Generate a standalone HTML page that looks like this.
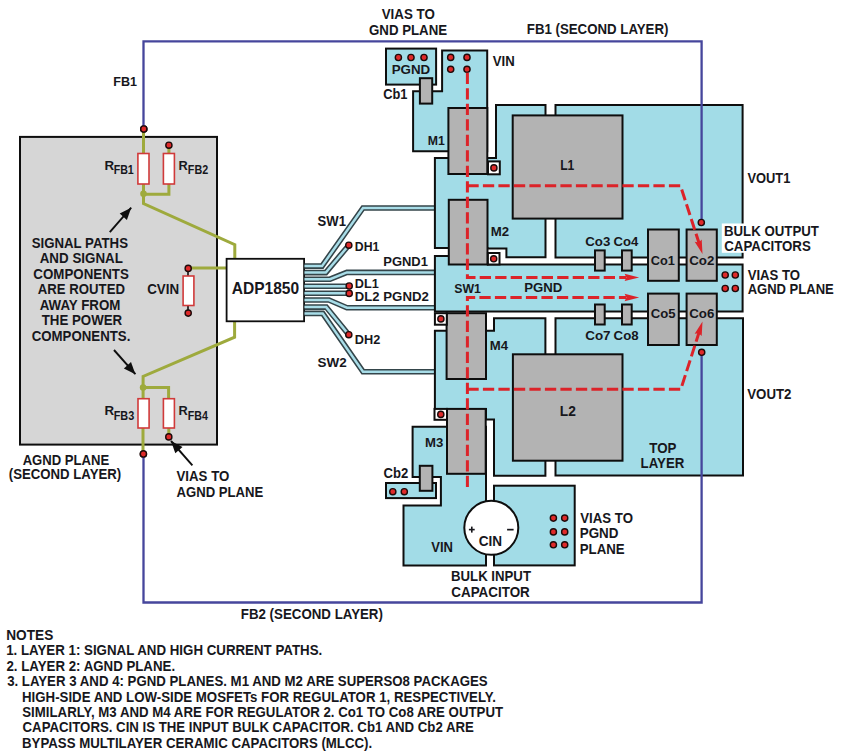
<!DOCTYPE html><html><head><meta charset="utf-8"><style>html,body{margin:0;padding:0;background:#fff;overflow:hidden}svg{display:block}text{font-family:"Liberation Sans",sans-serif;fill:#17171c}</style></head><body>
<svg width="842" height="756" viewBox="0 0 842 756">
<rect width="842" height="756" fill="#fff"/>
<rect x="20.0" y="136.9" width="197.0" height="307.7" fill="#d6d6d6" stroke="#0e0e0e" stroke-width="2.0"/>
<polyline points="143.5,129.0 143.5,154.0" fill="none" stroke="#9eaa3d" stroke-width="3.0" stroke-linejoin="miter" />
<polyline points="143.5,184.0 143.5,203.5 234.8,244.6 234.8,259.0" fill="none" stroke="#9eaa3d" stroke-width="3.0" stroke-linejoin="miter" />
<polyline points="168.9,145.0 168.9,154.0" fill="none" stroke="#9eaa3d" stroke-width="3.0" stroke-linejoin="miter" />
<polyline points="168.9,184.0 168.9,194.3 143.5,194.3" fill="none" stroke="#9eaa3d" stroke-width="3.0" stroke-linejoin="miter" />
<polyline points="188.2,268.0 226.6,268.0" fill="none" stroke="#9eaa3d" stroke-width="3.0" stroke-linejoin="miter" />
<polyline points="188.0,268.0 188.0,276.0" fill="none" stroke="#0e0e0e" stroke-width="1.6" stroke-linejoin="miter" />
<polyline points="188.0,305.0 188.0,313.0" fill="none" stroke="#0e0e0e" stroke-width="1.6" stroke-linejoin="miter" />
<polyline points="234.6,321.0 234.6,337.2 143.1,376.4 143.1,398.0" fill="none" stroke="#9eaa3d" stroke-width="3.0" stroke-linejoin="miter" />
<polyline points="143.1,387.6 168.6,387.6 168.6,398.0" fill="none" stroke="#9eaa3d" stroke-width="3.0" stroke-linejoin="miter" />
<polyline points="143.0,428.0 143.0,454.0" fill="none" stroke="#9eaa3d" stroke-width="3.0" stroke-linejoin="miter" />
<polyline points="168.8,428.0 168.8,437.0" fill="none" stroke="#9eaa3d" stroke-width="3.0" stroke-linejoin="miter" />
<circle cx="143.5" cy="193.8" r="3.3" fill="#9eaa3d"/>
<circle cx="143.1" cy="387.6" r="3.3" fill="#9eaa3d"/>
<rect x="137.9" y="153.5" width="11.1" height="30.5" fill="#fff" stroke="#d03a3a" stroke-width="1.6"/>
<rect x="163.4" y="153.5" width="11.0" height="30.5" fill="#fff" stroke="#d03a3a" stroke-width="1.6"/>
<rect x="183.1" y="276.0" width="10.8" height="29.5" fill="#fff" stroke="#d03a3a" stroke-width="1.6"/>
<rect x="138.0" y="398.7" width="11.1" height="29.3" fill="#fff" stroke="#d03a3a" stroke-width="1.6"/>
<rect x="163.4" y="398.7" width="11.0" height="29.3" fill="#fff" stroke="#d03a3a" stroke-width="1.6"/>
<circle cx="143.8" cy="129.0" r="3.1" fill="#df2a2a" stroke="#1e0a0a" stroke-width="1.4"/>
<circle cx="168.9" cy="145.2" r="3.1" fill="#df2a2a" stroke="#1e0a0a" stroke-width="1.4"/>
<circle cx="188.2" cy="268.4" r="3.1" fill="#df2a2a" stroke="#1e0a0a" stroke-width="1.4"/>
<circle cx="188.2" cy="313.1" r="3.1" fill="#df2a2a" stroke="#1e0a0a" stroke-width="1.4"/>
<circle cx="168.8" cy="436.9" r="3.1" fill="#df2a2a" stroke="#1e0a0a" stroke-width="1.4"/>
<circle cx="143.4" cy="454.0" r="3.1" fill="#df2a2a" stroke="#1e0a0a" stroke-width="1.4"/>
<rect x="226.6" y="258.8" width="77.5" height="62.5" fill="#fff" stroke="#0e0e0e" stroke-width="1.8"/>
<polyline points="304.5,266.1 322.0,266.1 363.0,208.0 435.0,208.0" fill="none" stroke="#34454a" stroke-width="5.6" stroke-linejoin="miter" />
<polyline points="304.5,272.6 325.8,272.6 348.8,245.2" fill="none" stroke="#34454a" stroke-width="5.6" stroke-linejoin="miter" />
<polyline points="304.5,279.2 330.0,279.2 346.9,272.4 435.0,272.4" fill="none" stroke="#34454a" stroke-width="5.6" stroke-linejoin="miter" />
<polyline points="304.5,286.2 349.2,286.2" fill="none" stroke="#34454a" stroke-width="5.6" stroke-linejoin="miter" />
<polyline points="304.5,293.2 349.2,293.2" fill="none" stroke="#34454a" stroke-width="5.6" stroke-linejoin="miter" />
<polyline points="304.5,300.0 328.9,300.0 346.9,307.7 435.0,307.7" fill="none" stroke="#34454a" stroke-width="5.6" stroke-linejoin="miter" />
<polyline points="304.5,307.1 326.2,307.1 348.8,334.7" fill="none" stroke="#34454a" stroke-width="5.6" stroke-linejoin="miter" />
<polyline points="304.5,313.4 322.7,313.4 363.0,371.7 435.0,371.7" fill="none" stroke="#34454a" stroke-width="5.6" stroke-linejoin="miter" />
<polyline points="304.5,266.1 322.0,266.1 363.0,208.0 435.0,208.0" fill="none" stroke="#a8dde8" stroke-width="2.5" stroke-linejoin="miter" />
<polyline points="304.5,272.6 325.8,272.6 348.8,245.2" fill="none" stroke="#a8dde8" stroke-width="2.5" stroke-linejoin="miter" />
<polyline points="304.5,279.2 330.0,279.2 346.9,272.4 435.0,272.4" fill="none" stroke="#a8dde8" stroke-width="2.5" stroke-linejoin="miter" />
<polyline points="304.5,286.2 349.2,286.2" fill="none" stroke="#a8dde8" stroke-width="2.5" stroke-linejoin="miter" />
<polyline points="304.5,293.2 349.2,293.2" fill="none" stroke="#a8dde8" stroke-width="2.5" stroke-linejoin="miter" />
<polyline points="304.5,300.0 328.9,300.0 346.9,307.7 435.0,307.7" fill="none" stroke="#a8dde8" stroke-width="2.5" stroke-linejoin="miter" />
<polyline points="304.5,307.1 326.2,307.1 348.8,334.7" fill="none" stroke="#a8dde8" stroke-width="2.5" stroke-linejoin="miter" />
<polyline points="304.5,313.4 322.7,313.4 363.0,371.7 435.0,371.7" fill="none" stroke="#a8dde8" stroke-width="2.5" stroke-linejoin="miter" />
<circle cx="348.8" cy="245.2" r="3.1" fill="#df2a2a" stroke="#1e0a0a" stroke-width="1.4"/>
<circle cx="349.2" cy="286.0" r="3.1" fill="#df2a2a" stroke="#1e0a0a" stroke-width="1.4"/>
<circle cx="349.2" cy="293.4" r="3.1" fill="#df2a2a" stroke="#1e0a0a" stroke-width="1.4"/>
<circle cx="348.8" cy="334.7" r="3.1" fill="#df2a2a" stroke="#1e0a0a" stroke-width="1.4"/>
<rect x="386.0" y="48.6" width="50.1" height="36.0" fill="#a2dce7" stroke="#0e0e0e" stroke-width="2.0"/>
<polygon points="442.1,50.5 487.2,50.5 487.2,151.2 413.1,151.2 413.1,91.2 442.1,91.2" fill="#a2dce7" stroke="#0e0e0e" stroke-width="2.0" stroke-linejoin="miter"/>
<polygon points="434.9,158.0 496.0,158.0 496.0,104.9 545.5,104.9 545.5,257.3 506.4,257.3 506.4,248.6 487.5,248.6 487.5,247.9 434.9,247.9" fill="#a2dce7" stroke="#0e0e0e" stroke-width="2.0" stroke-linejoin="miter"/>
<polygon points="555.5,104.9 742.6,104.9 742.6,257.6 555.5,257.6" fill="#a2dce7" stroke="#0e0e0e" stroke-width="2.0" stroke-linejoin="miter"/>
<polygon points="434.9,256.1 487.9,256.1 487.9,264.5 742.6,264.5 742.6,311.5 434.9,311.5" fill="#a2dce7" stroke="#0e0e0e" stroke-width="2.0" stroke-linejoin="miter"/>
<polygon points="434.9,330.7 494.0,330.7 494.0,318.3 545.4,318.3 545.4,475.7 494.0,475.7 494.0,419.6 486.0,419.6 486.0,409.0 434.9,409.0" fill="#a2dce7" stroke="#0e0e0e" stroke-width="2.0" stroke-linejoin="miter"/>
<polygon points="555.5,318.3 743.0,318.3 743.0,475.6 555.5,475.6" fill="#a2dce7" stroke="#0e0e0e" stroke-width="2.0" stroke-linejoin="miter"/>
<polygon points="412.6,426.8 486.0,426.8 486.0,565.4 403.5,565.4 403.5,505.6 440.9,505.6 440.9,477.0 412.6,477.0" fill="#a2dce7" stroke="#0e0e0e" stroke-width="2.0" stroke-linejoin="miter"/>
<rect x="386.0" y="483.0" width="50.0" height="15.1" fill="#a2dce7" stroke="#0e0e0e" stroke-width="2.0"/>
<rect x="494.0" y="485.7" width="80.7" height="79.7" fill="#a2dce7" stroke="#0e0e0e" stroke-width="2.0"/>
<rect x="419.9" y="78.2" width="12.3" height="25.4" fill="#b3b3b3" stroke="#0e0e0e" stroke-width="2.0"/>
<rect x="419.8" y="465.8" width="12.6" height="25.0" fill="#b3b3b3" stroke="#0e0e0e" stroke-width="2.0"/>
<rect x="448.4" y="108.0" width="38.9" height="66.0" fill="#b3b3b3" stroke="#0e0e0e" stroke-width="2.0"/>
<rect x="448.8" y="199.8" width="38.7" height="64.7" fill="#b3b3b3" stroke="#0e0e0e" stroke-width="2.0"/>
<rect x="446.6" y="313.2" width="39.4" height="65.8" fill="#b3b3b3" stroke="#0e0e0e" stroke-width="2.0"/>
<rect x="447.0" y="408.9" width="38.7" height="64.9" fill="#b3b3b3" stroke="#0e0e0e" stroke-width="2.0"/>
<rect x="512.7" y="115.4" width="109.8" height="103.2" fill="#b3b3b3" stroke="#0e0e0e" stroke-width="2.0"/>
<rect x="512.9" y="354.3" width="109.6" height="106.4" fill="#b3b3b3" stroke="#0e0e0e" stroke-width="2.0"/>
<rect x="488.0" y="161.4" width="11.8" height="12.9" fill="#ffffff" stroke="#0e0e0e" stroke-width="2.0"/>
<circle cx="493.9" cy="167.9" r="3.1" fill="#df2a2a" stroke="#1e0a0a" stroke-width="1.4"/>
<rect x="487.9" y="253.0" width="11.6" height="11.5" fill="#ffffff" stroke="#0e0e0e" stroke-width="2.0"/>
<circle cx="493.7" cy="258.8" r="3.1" fill="#df2a2a" stroke="#1e0a0a" stroke-width="1.4"/>
<rect x="434.9" y="313.2" width="11.9" height="11.5" fill="#ffffff" stroke="#0e0e0e" stroke-width="2.0"/>
<circle cx="440.9" cy="318.9" r="3.1" fill="#df2a2a" stroke="#1e0a0a" stroke-width="1.4"/>
<rect x="434.5" y="408.9" width="12.5" height="10.9" fill="#ffffff" stroke="#0e0e0e" stroke-width="2.0"/>
<circle cx="440.8" cy="414.4" r="3.1" fill="#df2a2a" stroke="#1e0a0a" stroke-width="1.4"/>
<rect x="648.0" y="229.5" width="30.8" height="51.3" fill="#b3b3b3" stroke="#0e0e0e" stroke-width="2.0"/>
<rect x="686.6" y="229.5" width="30.2" height="51.3" fill="#b3b3b3" stroke="#0e0e0e" stroke-width="2.0"/>
<rect x="648.0" y="293.6" width="30.8" height="51.4" fill="#b3b3b3" stroke="#0e0e0e" stroke-width="2.0"/>
<rect x="686.6" y="293.6" width="30.2" height="51.4" fill="#b3b3b3" stroke="#0e0e0e" stroke-width="2.0"/>
<rect x="595.0" y="250.4" width="9.7" height="20.2" fill="#b3b3b3" stroke="#0e0e0e" stroke-width="2.0"/>
<rect x="622.0" y="250.4" width="9.7" height="20.2" fill="#b3b3b3" stroke="#0e0e0e" stroke-width="2.0"/>
<rect x="595.0" y="304.5" width="9.7" height="20.0" fill="#b3b3b3" stroke="#0e0e0e" stroke-width="2.0"/>
<rect x="622.0" y="304.5" width="9.7" height="20.0" fill="#b3b3b3" stroke="#0e0e0e" stroke-width="2.0"/>
<circle cx="491.3" cy="527.8" r="27.0" fill="#fff" stroke="#0e0e0e" stroke-width="2"/>
<polyline points="143.5,129.0 143.5,41.3 701.6,41.3 701.6,222.5" fill="none" stroke="#46469c" stroke-width="2.3" stroke-linejoin="miter" />
<polyline points="143.5,454.0 143.5,602.5 701.6,602.5 701.6,352.3" fill="none" stroke="#46469c" stroke-width="2.3" stroke-linejoin="miter" />
<circle cx="143.8" cy="129.0" r="3.1" fill="#df2a2a" stroke="#1e0a0a" stroke-width="1.4"/>
<circle cx="143.4" cy="454.0" r="3.1" fill="#df2a2a" stroke="#1e0a0a" stroke-width="1.4"/>
<circle cx="398.4" cy="57.5" r="3.1" fill="#df2a2a" stroke="#1e0a0a" stroke-width="1.4"/>
<circle cx="411.0" cy="57.5" r="3.1" fill="#df2a2a" stroke="#1e0a0a" stroke-width="1.4"/>
<circle cx="424.0" cy="57.5" r="3.1" fill="#df2a2a" stroke="#1e0a0a" stroke-width="1.4"/>
<circle cx="450.7" cy="57.4" r="3.1" fill="#df2a2a" stroke="#1e0a0a" stroke-width="1.4"/>
<circle cx="450.7" cy="69.3" r="3.1" fill="#df2a2a" stroke="#1e0a0a" stroke-width="1.4"/>
<circle cx="467.0" cy="57.4" r="3.1" fill="#df2a2a" stroke="#1e0a0a" stroke-width="1.4"/>
<circle cx="467.0" cy="69.3" r="3.1" fill="#df2a2a" stroke="#1e0a0a" stroke-width="1.4"/>
<circle cx="725.2" cy="275.0" r="3.1" fill="#df2a2a" stroke="#1e0a0a" stroke-width="1.4"/>
<circle cx="725.2" cy="288.5" r="3.1" fill="#df2a2a" stroke="#1e0a0a" stroke-width="1.4"/>
<circle cx="735.3" cy="275.0" r="3.1" fill="#df2a2a" stroke="#1e0a0a" stroke-width="1.4"/>
<circle cx="735.3" cy="288.5" r="3.1" fill="#df2a2a" stroke="#1e0a0a" stroke-width="1.4"/>
<circle cx="553.4" cy="518.1" r="3.1" fill="#df2a2a" stroke="#1e0a0a" stroke-width="1.4"/>
<circle cx="553.4" cy="531.9" r="3.1" fill="#df2a2a" stroke="#1e0a0a" stroke-width="1.4"/>
<circle cx="553.4" cy="544.8" r="3.1" fill="#df2a2a" stroke="#1e0a0a" stroke-width="1.4"/>
<circle cx="564.7" cy="518.1" r="3.1" fill="#df2a2a" stroke="#1e0a0a" stroke-width="1.4"/>
<circle cx="564.7" cy="531.9" r="3.1" fill="#df2a2a" stroke="#1e0a0a" stroke-width="1.4"/>
<circle cx="564.7" cy="544.8" r="3.1" fill="#df2a2a" stroke="#1e0a0a" stroke-width="1.4"/>
<circle cx="392.8" cy="491.7" r="3.1" fill="#df2a2a" stroke="#1e0a0a" stroke-width="1.4"/>
<circle cx="404.3" cy="491.7" r="3.1" fill="#df2a2a" stroke="#1e0a0a" stroke-width="1.4"/>
<circle cx="701.3" cy="222.5" r="3.1" fill="#df2a2a" stroke="#1e0a0a" stroke-width="1.4"/>
<circle cx="701.7" cy="352.3" r="3.1" fill="#df2a2a" stroke="#1e0a0a" stroke-width="1.4"/>
<polyline points="467.4,71.5 467.4,277.4 626.0,277.4" fill="none" stroke="#dc2329" stroke-width="3" stroke-linejoin="miter" stroke-dasharray="11.3 4.2" stroke-linecap="butt" stroke-dashoffset="-1.2"/>
<polyline points="467.4,185.8 680.5,185.8 699.5,244.5" fill="none" stroke="#dc2329" stroke-width="3" stroke-linejoin="miter" stroke-dasharray="11.3 4.2" stroke-linecap="butt"/>
<polyline points="467.4,488.0 467.4,297.5 626.0,297.5" fill="none" stroke="#dc2329" stroke-width="3" stroke-linejoin="miter" stroke-dasharray="11.3 4.2" stroke-linecap="butt" stroke-dashoffset="-1.0"/>
<polyline points="467.4,389.3 680.8,389.3 699.5,331.0" fill="none" stroke="#dc2329" stroke-width="3" stroke-linejoin="miter" stroke-dasharray="11.3 4.2" stroke-linecap="butt"/>
<polygon points="639.2,277.4 624.6,281.1 626.4,277.4 624.6,273.7" fill="#dc2329"/>
<polygon points="639.2,297.5 624.6,301.2 626.4,297.5 624.6,293.8" fill="#dc2329"/>
<polygon points="702.5,254.0 694.7,241.8 698.8,242.4 701.7,239.6" fill="#dc2329"/>
<polygon points="702.5,321.6 701.7,336.0 698.8,333.2 694.7,333.8" fill="#dc2329"/>
<rect x="721.8" y="223.5" width="108.2" height="29.3" fill="#fff" stroke="none" stroke-width="0"/>
<text x="381.73" y="18.90" font-size="14.21" font-weight="bold" textLength="53.03" lengthAdjust="spacingAndGlyphs">VIAS TO</text>
<text x="368.97" y="35.00" font-size="14.21" font-weight="bold" textLength="78.19" lengthAdjust="spacingAndGlyphs">GND PLANE</text>
<text x="526.80" y="33.80" font-size="14.0" font-weight="bold" textLength="141.61" lengthAdjust="spacingAndGlyphs">FB1 (SECOND LAYER)</text>
<text x="113.35" y="85.70" font-size="13.17" font-weight="bold" textLength="23.72" lengthAdjust="spacingAndGlyphs">FB1</text>
<text x="391.70" y="73.60" font-size="13.58" font-weight="bold" textLength="38.56" lengthAdjust="spacingAndGlyphs">PGND</text>
<text x="492.84" y="66.30" font-size="14.0" font-weight="bold" textLength="21.95" lengthAdjust="spacingAndGlyphs">VIN</text>
<text x="383.19" y="99.00" font-size="13.79" font-weight="bold" textLength="24.29" lengthAdjust="spacingAndGlyphs">Cb1</text>
<text x="427.81" y="144.70" font-size="13.58" font-weight="bold" textLength="17.05" lengthAdjust="spacingAndGlyphs">M1</text>
<text x="560.17" y="169.70" font-size="14.21" font-weight="bold" textLength="14.16" lengthAdjust="spacingAndGlyphs">L1</text>
<text x="747.44" y="182.80" font-size="14.42" font-weight="bold" textLength="42.90" lengthAdjust="spacingAndGlyphs">VOUT1</text>
<text x="724.01" y="235.80" font-size="14.21" font-weight="bold" textLength="94.88" lengthAdjust="spacingAndGlyphs">BULK OUTPUT</text>
<text x="724.27" y="250.90" font-size="14.21" font-weight="bold" textLength="86.55" lengthAdjust="spacingAndGlyphs">CAPACITORS</text>
<text x="747.64" y="279.80" font-size="14.0" font-weight="bold" textLength="52.42" lengthAdjust="spacingAndGlyphs">VIAS TO</text>
<text x="747.64" y="294.20" font-size="14.21" font-weight="bold" textLength="86.17" lengthAdjust="spacingAndGlyphs">AGND PLANE</text>
<text x="585.27" y="246.10" font-size="13.58" font-weight="bold" textLength="25.02" lengthAdjust="spacingAndGlyphs">Co3</text>
<text x="613.58" y="246.10" font-size="13.58" font-weight="bold" textLength="24.75" lengthAdjust="spacingAndGlyphs">Co4</text>
<text x="650.69" y="264.60" font-size="13.58" font-weight="bold" textLength="24.08" lengthAdjust="spacingAndGlyphs">Co1</text>
<text x="689.17" y="264.60" font-size="13.58" font-weight="bold" textLength="25.12" lengthAdjust="spacingAndGlyphs">Co2</text>
<text x="650.67" y="318.00" font-size="13.58" font-weight="bold" textLength="24.81" lengthAdjust="spacingAndGlyphs">Co5</text>
<text x="689.17" y="318.00" font-size="13.58" font-weight="bold" textLength="25.12" lengthAdjust="spacingAndGlyphs">Co6</text>
<text x="585.26" y="339.90" font-size="13.58" font-weight="bold" textLength="25.30" lengthAdjust="spacingAndGlyphs">Co7</text>
<text x="613.57" y="339.90" font-size="13.58" font-weight="bold" textLength="25.02" lengthAdjust="spacingAndGlyphs">Co8</text>
<text x="490.81" y="235.90" font-size="13.58" font-weight="bold" textLength="18.38" lengthAdjust="spacingAndGlyphs">M2</text>
<text x="454.26" y="292.60" font-size="13.58" font-weight="bold" textLength="26.68" lengthAdjust="spacingAndGlyphs">SW1</text>
<text x="524.21" y="292.00" font-size="13.58" font-weight="bold" textLength="38.14" lengthAdjust="spacingAndGlyphs">PGND</text>
<text x="489.81" y="349.90" font-size="13.58" font-weight="bold" textLength="18.31" lengthAdjust="spacingAndGlyphs">M4</text>
<text x="747.23" y="398.90" font-size="14.21" font-weight="bold" textLength="44.22" lengthAdjust="spacingAndGlyphs">VOUT2</text>
<text x="559.87" y="416.00" font-size="14.21" font-weight="bold" textLength="16.08" lengthAdjust="spacingAndGlyphs">L2</text>
<text x="649.33" y="452.80" font-size="14.21" font-weight="bold" textLength="27.17" lengthAdjust="spacingAndGlyphs">TOP</text>
<text x="640.61" y="467.80" font-size="14.21" font-weight="bold" textLength="43.69" lengthAdjust="spacingAndGlyphs">LAYER</text>
<text x="425.11" y="446.90" font-size="13.58" font-weight="bold" textLength="18.28" lengthAdjust="spacingAndGlyphs">M3</text>
<text x="383.48" y="477.60" font-size="14.0" font-weight="bold" textLength="24.71" lengthAdjust="spacingAndGlyphs">Cb2</text>
<text x="431.24" y="552.00" font-size="14.0" font-weight="bold" textLength="21.74" lengthAdjust="spacingAndGlyphs">VIN</text>
<text x="478.66" y="546.00" font-size="14.21" font-weight="bold" textLength="23.39" lengthAdjust="spacingAndGlyphs">CIN</text>
<text x="580.24" y="523.10" font-size="14.21" font-weight="bold" textLength="52.73" lengthAdjust="spacingAndGlyphs">VIAS TO</text>
<text x="579.69" y="538.30" font-size="14.21" font-weight="bold" textLength="38.77" lengthAdjust="spacingAndGlyphs">PGND</text>
<text x="579.70" y="553.50" font-size="14.21" font-weight="bold" textLength="44.95" lengthAdjust="spacingAndGlyphs">PLANE</text>
<text x="451.01" y="581.00" font-size="14.21" font-weight="bold" textLength="79.99" lengthAdjust="spacingAndGlyphs">BULK INPUT</text>
<text x="451.26" y="596.80" font-size="14.21" font-weight="bold" textLength="78.57" lengthAdjust="spacingAndGlyphs">CAPACITOR</text>
<text x="240.80" y="618.90" font-size="14.0" font-weight="bold" textLength="142.12" lengthAdjust="spacingAndGlyphs">FB2 (SECOND LAYER)</text>
<text x="317.58" y="225.70" font-size="13.79" font-weight="bold" textLength="28.38" lengthAdjust="spacingAndGlyphs">SW1</text>
<text x="354.87" y="250.60" font-size="13.17" font-weight="bold" textLength="24.49" lengthAdjust="spacingAndGlyphs">DH1</text>
<text x="383.32" y="266.30" font-size="13.17" font-weight="bold" textLength="44.60" lengthAdjust="spacingAndGlyphs">PGND1</text>
<text x="354.84" y="287.80" font-size="13.17" font-weight="bold" textLength="23.93" lengthAdjust="spacingAndGlyphs">DL1</text>
<text x="354.82" y="300.70" font-size="13.17" font-weight="bold" textLength="24.67" lengthAdjust="spacingAndGlyphs">DL2</text>
<text x="383.31" y="300.70" font-size="13.17" font-weight="bold" textLength="45.59" lengthAdjust="spacingAndGlyphs">PGND2</text>
<text x="354.84" y="344.10" font-size="13.58" font-weight="bold" textLength="25.48" lengthAdjust="spacingAndGlyphs">DH2</text>
<text x="317.56" y="366.90" font-size="13.58" font-weight="bold" textLength="29.17" lengthAdjust="spacingAndGlyphs">SW2</text>
<text x="231.79" y="293.80" font-size="16.3" font-weight="bold" textLength="67.37" lengthAdjust="spacingAndGlyphs">ADP1850</text>
<text x="147.17" y="293.80" font-size="13.79" font-weight="bold" textLength="31.86" lengthAdjust="spacingAndGlyphs">CVIN</text>
<text x="31.67" y="248.00" font-size="14.21" font-weight="bold" textLength="96.34" lengthAdjust="spacingAndGlyphs">SIGNAL PATHS</text>
<text x="39.73" y="263.40" font-size="14.21" font-weight="bold" textLength="83.13" lengthAdjust="spacingAndGlyphs">AND SIGNAL</text>
<text x="33.37" y="278.80" font-size="14.21" font-weight="bold" textLength="95.46" lengthAdjust="spacingAndGlyphs">COMPONENTS</text>
<text x="37.84" y="294.30" font-size="14.21" font-weight="bold" textLength="87.14" lengthAdjust="spacingAndGlyphs">ARE ROUTED</text>
<text x="39.73" y="309.70" font-size="14.21" font-weight="bold" textLength="80.72" lengthAdjust="spacingAndGlyphs">AWAY FROM</text>
<text x="41.73" y="325.10" font-size="14.21" font-weight="bold" textLength="80.44" lengthAdjust="spacingAndGlyphs">THE POWER</text>
<text x="31.67" y="340.50" font-size="14.21" font-weight="bold" textLength="98.69" lengthAdjust="spacingAndGlyphs">COMPONENTS.</text>
<text x="104.40" y="169.80" font-size="13.58" font-weight="bold" textLength="9.59" lengthAdjust="spacingAndGlyphs">R</text>
<text x="113.66" y="173.90" font-size="13.17" font-weight="bold" textLength="20.15" lengthAdjust="spacingAndGlyphs">FB1</text>
<text x="178.43" y="169.80" font-size="13.58" font-weight="bold" textLength="9.25" lengthAdjust="spacingAndGlyphs">R</text>
<text x="187.85" y="173.90" font-size="13.17" font-weight="bold" textLength="20.36" lengthAdjust="spacingAndGlyphs">FB2</text>
<text x="104.40" y="415.40" font-size="13.58" font-weight="bold" textLength="9.59" lengthAdjust="spacingAndGlyphs">R</text>
<text x="113.65" y="419.80" font-size="13.17" font-weight="bold" textLength="20.57" lengthAdjust="spacingAndGlyphs">FB3</text>
<text x="178.43" y="415.40" font-size="13.58" font-weight="bold" textLength="9.25" lengthAdjust="spacingAndGlyphs">R</text>
<text x="187.86" y="419.80" font-size="13.17" font-weight="bold" textLength="20.14" lengthAdjust="spacingAndGlyphs">FB4</text>
<text x="22.64" y="465.10" font-size="14.0" font-weight="bold" textLength="86.58" lengthAdjust="spacingAndGlyphs">AGND PLANE</text>
<text x="8.81" y="479.30" font-size="14.0" font-weight="bold" textLength="112.38" lengthAdjust="spacingAndGlyphs">(SECOND LAYER)</text>
<text x="176.53" y="480.90" font-size="14.21" font-weight="bold" textLength="52.83" lengthAdjust="spacingAndGlyphs">VIAS TO</text>
<text x="176.54" y="496.70" font-size="14.21" font-weight="bold" textLength="86.78" lengthAdjust="spacingAndGlyphs">AGND PLANE</text>
<text x="6.28" y="640.00" font-size="13.79" font-weight="bold" textLength="47.03" lengthAdjust="spacingAndGlyphs">NOTES</text>
<text x="6.20" y="655.40" font-size="13.79" font-weight="bold" textLength="316.02" lengthAdjust="spacingAndGlyphs">1. LAYER 1: SIGNAL AND HIGH CURRENT PATHS.</text>
<text x="6.47" y="670.70" font-size="13.79" font-weight="bold" textLength="168.61" lengthAdjust="spacingAndGlyphs">2. LAYER 2: AGND PLANE.</text>
<text x="7.14" y="686.10" font-size="13.79" font-weight="bold" textLength="480.56" lengthAdjust="spacingAndGlyphs">3. LAYER 3 AND 4: PGND PLANES. M1 AND M2 ARE SUPERSO8 PACKAGES</text>
<text x="22.00" y="701.50" font-size="13.79" font-weight="bold" textLength="473.83" lengthAdjust="spacingAndGlyphs">HIGH-SIDE AND LOW-SIDE MOSFETs FOR REGULATOR 1, RESPECTIVELY.</text>
<text x="22.27" y="716.90" font-size="13.79" font-weight="bold" textLength="480.79" lengthAdjust="spacingAndGlyphs">SIMILARLY, M3 AND M4 ARE FOR REGULATOR 2. Co1 TO Co8 ARE OUTPUT</text>
<text x="22.57" y="732.20" font-size="13.79" font-weight="bold" textLength="451.35" lengthAdjust="spacingAndGlyphs">CAPACITORS. CIN IS THE INPUT BULK CAPACITOR. Cb1 AND Cb2 ARE</text>
<text x="22.01" y="747.60" font-size="13.79" font-weight="bold" textLength="350.16" lengthAdjust="spacingAndGlyphs">BYPASS MULTILAYER CERAMIC CAPACITORS (MLCC).</text>
<rect x="468.9" y="528.8" width="5.8" height="1.6" fill="#17171c"/>
<rect x="471.0" y="526.6" width="1.6" height="6.0" fill="#17171c"/>
<rect x="507.1" y="528.8" width="6.5" height="1.7" fill="#17171c"/>
<line x1="109.8" y1="232.2" x2="131.2" y2="207.7" stroke="#0e0e0e" stroke-width="1.9"/>
<polygon points="131.2,207.7 126.9,219.9 119.7,213.6" fill="#0e0e0e"/>
<line x1="114" y1="350" x2="135.4" y2="374.2" stroke="#0e0e0e" stroke-width="1.9"/>
<polygon points="135.4,374.2 123.9,368.4 131.0,362.0" fill="#0e0e0e"/>
<line x1="192.4" y1="465.4" x2="171" y2="441" stroke="#0e0e0e" stroke-width="1.9"/>
<polygon points="171,441 182.5,446.9 175.3,453.2" fill="#0e0e0e"/>
</svg></body></html>
